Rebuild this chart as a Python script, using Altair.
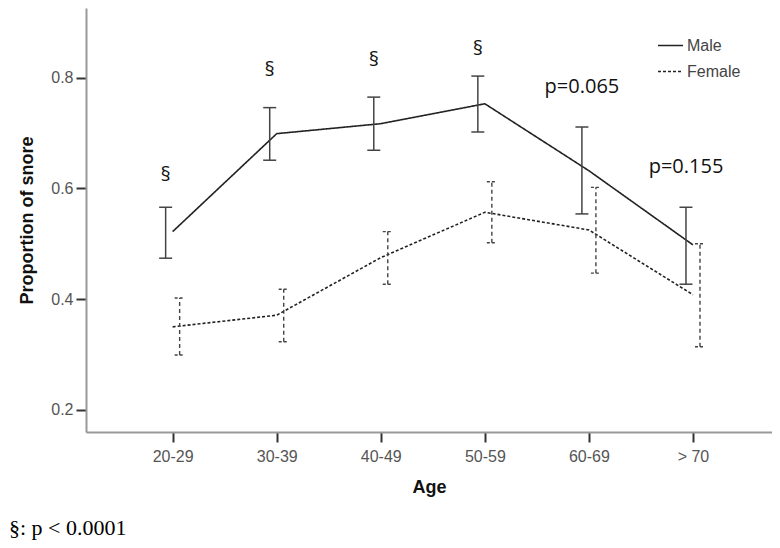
import altair as alt
import pandas as pd

ages = ["20-29", "30-39", "40-49", "50-59", "60-69", "> 70"]

male_mean = [0.522, 0.699, 0.717, 0.753, 0.632, 0.498]
male_low = [0.474, 0.651, 0.669, 0.702, 0.554, 0.427]
male_high = [0.566, 0.746, 0.765, 0.803, 0.711, 0.566]

female_mean = [0.350, 0.371, 0.475, 0.557, 0.525, 0.408]
female_low = [0.299, 0.323, 0.427, 0.502, 0.447, 0.314]
female_high = [0.402, 0.418, 0.522, 0.612, 0.602, 0.500]

annot_age = ["20-29", "30-39", "40-49", "50-59", "60-69", "> 70"]
annot_y = [0.625, 0.814, 0.832, 0.852, 0.783, 0.639]
annot_text = ["§", "§", "§", "§", "p=0.065", "p=0.155"]

footnote = "§: p < 0.0001"

rows = []
for i, a in enumerate(ages):
    rows.append(dict(age=a, sex="Male", mean=male_mean[i], low=male_low[i], high=male_high[i]))
    rows.append(dict(age=a, sex="Female", mean=female_mean[i], low=female_low[i], high=female_high[i]))
df = pd.DataFrame(rows)
annot = pd.DataFrame({"age": annot_age, "yv": annot_y, "label": annot_text})
note = pd.DataFrame({"note": [footnote]})

x_enc = alt.X(
    "age:N",
    sort=ages,
    scale=alt.Scale(type="point", domain=ages, padding=0.796, align=0.523),
    axis=alt.Axis(title="Age", labelAngle=0, labelPadding=6, titlePadding=14),
)
y_scale = alt.Scale(domain=[0.16, 0.926], nice=False, zero=False)
y_axis = alt.Axis(title="Proportion of snore", values=[0.2, 0.4, 0.6, 0.8], format=".1f",
                  labelPadding=3, titlePadding=14)

base = alt.Chart(df)

lines = base.mark_line(color="#222", strokeWidth=1.6).encode(
    x=x_enc,
    y=alt.Y("mean:Q", scale=y_scale, axis=y_axis),
    strokeDash=alt.StrokeDash(
        "sex:N",
        scale=alt.Scale(domain=["Male", "Female"], range=[[1, 0], [3, 2]]),
        legend=alt.Legend(
            title=None, orient="none", legendX=571, legendY=24,
            symbolType="stroke", symbolSize=625, symbolStrokeColor="#222",
            symbolStrokeWidth=1.5, labelFontSize=16, labelColor="#444",
            labelFont="Liberation Sans", padding=0, rowPadding=4, labelOffset=3,
        ),
    ),
)

male = base.transform_filter(alt.datum.sex == "Male")
female = base.transform_filter(alt.datum.sex == "Female")

male_bar = male.mark_rule(color="#444", strokeWidth=1.5, xOffset=-7).encode(
    x=x_enc, y=alt.Y("low:Q", scale=y_scale, axis=y_axis), y2="high:Q"
)
female_bar = female.mark_rule(color="#444", strokeWidth=1.4, strokeDash=[4, 3], xOffset=7).encode(
    x=x_enc, y=alt.Y("low:Q", scale=y_scale, axis=y_axis), y2="high:Q"
)
male_cap = male.transform_fold(["low", "high"], as_=["end", "val"]).mark_point(
    shape="stroke", size=169, color="#444", strokeWidth=1.5, filled=False, opacity=1, xOffset=-7
).encode(x=x_enc, y=alt.Y("val:Q", scale=y_scale, axis=y_axis))
female_cap = female.transform_fold(["low", "high"], as_=["end", "val"]).mark_point(
    shape="stroke", size=100, color="#444", strokeWidth=1.4, strokeDash=[3, 2], filled=False,
    opacity=1, xOffset=7
).encode(x=x_enc, y=alt.Y("val:Q", scale=y_scale, axis=y_axis))

annots = alt.Chart(annot).mark_text(
    font="Open Sans", fontSize=20, color="#111", xOffset=-7, baseline="middle"
).encode(x=x_enc, y=alt.Y("yv:Q", scale=y_scale, axis=y_axis), text="label:N")

foot = alt.Chart(note).mark_text(
    align="left", baseline="alphabetic", font="Liberation Serif", fontSize=22, color="#000"
).encode(x=alt.value(-77), y=alt.value(527), text="note:N")

chart = alt.layer(lines, male_bar, female_bar, male_cap, female_cap, annots, foot).properties(
    width=686,
    height=424,
    autosize=alt.AutoSizeParams(type="none"),
    padding={"left": 78, "top": 0, "right": 0, "bottom": 108},
).configure_view(stroke=None).configure_axis(
    grid=False,
    domainColor="#999",
    domainWidth=2,
    tickColor="#333",
    tickWidth=2,
    tickSize=10,
    labelFont="Liberation Sans",
    labelFontSize=16,
    labelColor="#555",
    titleFont="Liberation Sans",
    titleFontSize=18,
    titleFontWeight="bold",
    titleColor="#111",
)

chart.save("out.html", embed_options={"renderer": "svg", "actions": False})
